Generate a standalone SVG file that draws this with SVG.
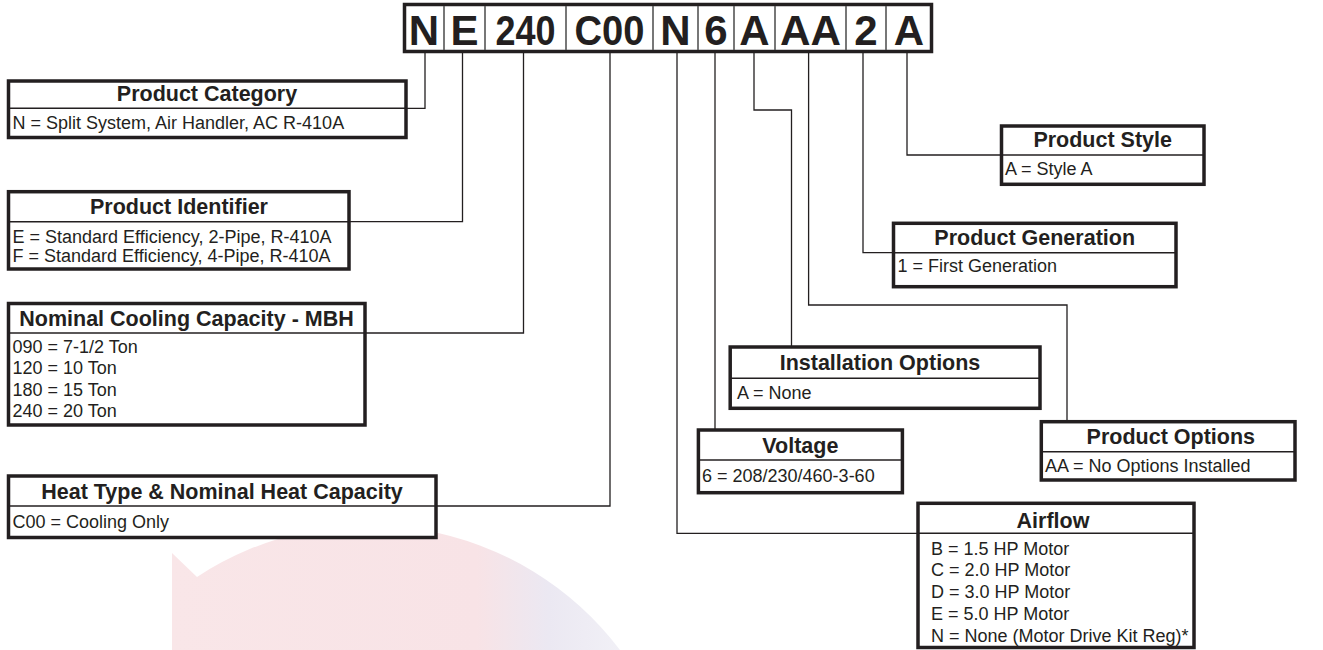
<svg xmlns="http://www.w3.org/2000/svg" width="1323" height="650" viewBox="0 0 1323 650">
<defs>
<style>
.box{fill:#fff;stroke:#231f20;stroke-width:3.5}
.dv{stroke:#231f20;stroke-width:1.5}
.hd{font-family:"Liberation Sans",Arial,sans-serif;font-weight:bold;font-size:21.5px;fill:#231f20;text-anchor:middle}
.bd{font-family:"Liberation Sans",Arial,sans-serif;font-size:18px;fill:#231f20}
.code{font-family:"Liberation Sans",Arial,sans-serif;font-weight:bold;font-size:42px;fill:#231f20;text-anchor:middle}
.cdv{stroke:#555;stroke-width:1.6}
.conn{fill:none;stroke:#231f20;stroke-width:1.3}
</style>
<linearGradient id="wm" x1="172" y1="0" x2="620" y2="0" gradientUnits="userSpaceOnUse">
<stop offset="0" stop-color="#f9e6e8"/>
<stop offset="0.68" stop-color="#f8e3e6"/>
<stop offset="0.84" stop-color="#ebe8f2"/>
<stop offset="1" stop-color="#f1f0f6"/>
</linearGradient>
</defs>
<rect width="1323" height="650" fill="#fff"/>
<path id="watermark" d="M172,553 L197,577 A314,314 0 0 1 620,650 L172,650 Z" fill="url(#wm)"/>

<g id="connectors">
<path class="conn" d="M425,52 V108.3 H406"/>
<path class="conn" d="M462.5,52 V221.7 H349"/>
<path class="conn" d="M523.5,52 V333 H365"/>
<path class="conn" d="M610,52 V506 H436"/>
<path class="conn" d="M677,52 V533.3 H918"/>
<path class="conn" d="M715,52 V430"/>
<path class="conn" d="M754,52 V110 H791.5 V347"/>
<path class="conn" d="M808.6,52 V305 H1067 V421.7"/>
<path class="conn" d="M863,52 V252.7 H893.5"/>
<path class="conn" d="M907,52 V155 H1001.5"/>
</g>

<g id="code">
<rect class="box" x="404.5" y="4.5" width="527" height="47"/>
<line class="cdv" x1="444" y1="6" x2="444" y2="50"/>
<line class="cdv" x1="485" y1="6" x2="485" y2="50"/>
<line class="cdv" x1="566" y1="6" x2="566" y2="50"/>
<line class="cdv" x1="653" y1="6" x2="653" y2="50"/>
<line class="cdv" x1="698" y1="6" x2="698" y2="50"/>
<line class="cdv" x1="734" y1="6" x2="734" y2="50"/>
<line class="cdv" x1="775" y1="6" x2="775" y2="50"/>
<line class="cdv" x1="846" y1="6" x2="846" y2="50"/>
<line class="cdv" x1="886" y1="6" x2="886" y2="50"/>
<text class="code" x="424" y="45">N</text>
<text class="code" x="464.5" y="45">E</text>
<text class="code" x="525.5" y="45" textLength="60" lengthAdjust="spacingAndGlyphs">240</text>
<text class="code" x="609.5" y="45" textLength="70" lengthAdjust="spacingAndGlyphs">C00</text>
<text class="code" x="675.5" y="45">N</text>
<text class="code" x="716" y="45">6</text>
<text class="code" x="754.5" y="45">A</text>
<text class="code" x="810.5" y="45" textLength="61" lengthAdjust="spacingAndGlyphs">AA</text>
<text class="code" x="866" y="45">2</text>
<text class="code" x="909" y="45">A</text>
</g>

<g id="product-category">
<rect class="box" x="8.5" y="81" width="397.5" height="56.5"/>
<line class="dv" x1="8.5" y1="108.3" x2="406" y2="108.3"/>
<text class="hd" x="207" y="101">Product Category</text>
<text class="bd" x="12.5" y="128.5">N = Split System, Air Handler, AC R-410A</text>
</g>

<g id="product-identifier">
<rect class="box" x="8.5" y="191.7" width="340.5" height="77.3"/>
<line class="dv" x1="8.5" y1="221.7" x2="349" y2="221.7"/>
<text class="hd" x="179" y="213.5">Product Identifier</text>
<text class="bd" x="12.5" y="243.3">E = Standard Efficiency, 2-Pipe, R-410A</text>
<text class="bd" x="12.5" y="261.7">F = Standard Efficiency, 4-Pipe, R-410A</text>
</g>

<g id="nominal-cooling">
<rect class="box" x="8.5" y="303.5" width="356.5" height="121.5"/>
<line class="dv" x1="8.5" y1="333" x2="365" y2="333"/>
<text class="hd" x="186.5" y="326">Nominal Cooling Capacity - MBH</text>
<text class="bd" x="12.5" y="353">090 = 7-1/2 Ton</text>
<text class="bd" x="12.5" y="374.3">120 = 10 Ton</text>
<text class="bd" x="12.5" y="395.6">180 = 15 Ton</text>
<text class="bd" x="12.5" y="416.9">240 = 20 Ton</text>
</g>

<g id="heat-type">
<rect class="box" x="8.5" y="476" width="427.5" height="61.5"/>
<line class="dv" x1="8.5" y1="506" x2="436" y2="506"/>
<text class="hd" x="222" y="499">Heat Type &amp; Nominal Heat Capacity</text>
<text class="bd" x="12.5" y="527.5">C00 = Cooling Only</text>
</g>

<g id="product-style">
<rect class="box" x="1001.5" y="126" width="202.5" height="58.3"/>
<line class="dv" x1="1001.5" y1="155" x2="1204" y2="155"/>
<text class="hd" x="1102.7" y="146.5">Product Style</text>
<text class="bd" x="1005" y="175">A = Style A</text>
</g>

<g id="product-generation">
<rect class="box" x="893.5" y="223.3" width="282.5" height="63.4"/>
<line class="dv" x1="893.5" y1="252.7" x2="1176" y2="252.7"/>
<text class="hd" x="1034.7" y="245">Product Generation</text>
<text class="bd" x="897.5" y="272">1 = First Generation</text>
</g>

<g id="installation-options">
<rect class="box" x="730.2" y="347" width="309.8" height="61.3"/>
<line class="dv" x1="730.2" y1="378.3" x2="1040" y2="378.3"/>
<text class="hd" x="880" y="369.5">Installation Options</text>
<text class="bd" x="737" y="398.5">A = None</text>
</g>

<g id="voltage">
<rect class="box" x="698.4" y="430" width="204" height="62.7"/>
<line class="dv" x1="698.4" y1="460" x2="902.4" y2="460"/>
<text class="hd" x="800.4" y="453">Voltage</text>
<text class="bd" x="702" y="482">6 = 208/230/460-3-60</text>
</g>

<g id="product-options">
<rect class="box" x="1041.3" y="421.7" width="253.7" height="58.3"/>
<line class="dv" x1="1041.3" y1="451.7" x2="1295" y2="451.7"/>
<text class="hd" x="1170.8" y="443.5">Product Options</text>
<text class="bd" x="1045" y="472">AA = No Options Installed</text>
</g>

<g id="airflow">
<rect class="box" x="918" y="503.3" width="276" height="144.2"/>
<line class="dv" x1="918" y1="533.3" x2="1194" y2="533.3"/>
<text class="hd" x="1053" y="528">Airflow</text>
<text class="bd" x="931" y="554.5">B = 1.5 HP Motor</text>
<text class="bd" x="931" y="576.3">C = 2.0 HP Motor</text>
<text class="bd" x="931" y="598.1">D = 3.0 HP Motor</text>
<text class="bd" x="931" y="619.9">E = 5.0 HP Motor</text>
<text class="bd" x="931" y="641.7">N = None (Motor Drive Kit Reg)*</text>
</g>
</svg>
